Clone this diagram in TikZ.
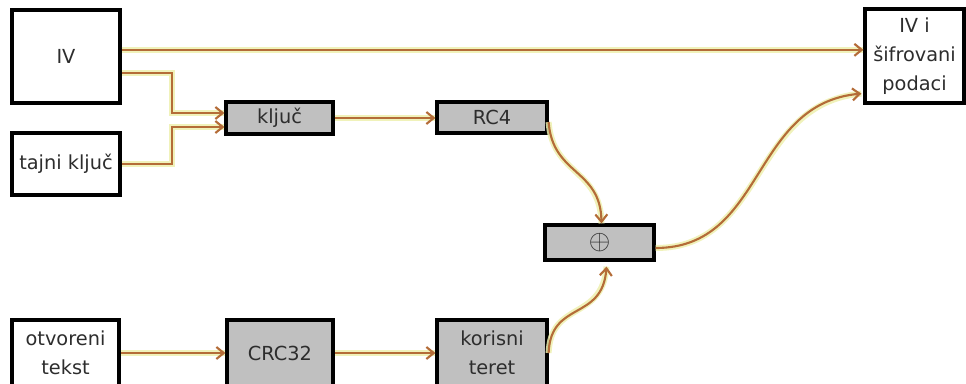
\documentclass[tikz,border=0pt]{standalone}
\usepackage{fontspec}
\setmainfont{DejaVu Sans}
\usetikzlibrary{arrows.meta,calc}
\definecolor{wirecol}{RGB}{180,108,56}
\definecolor{glowcol}{RGB}{238,240,175}
\definecolor{boxgray}{RGB}{192,192,192}
\definecolor{inkcol}{RGB}{45,45,45}
\begin{document}
\begin{tikzpicture}[x=0.75pt,y=-0.75pt,
  box/.style={draw=black, line width=2.4pt, inner sep=0pt, anchor=center,
    align=center, text=inkcol, font=\fontsize{14.5}{21.75}\selectfont},
  graybox/.style={box, fill=boxgray},
  wire/.style={draw=wirecol, line width=1.6pt,
    -{Straight Barb[length=5.5pt,width=9pt]},
    preaction={draw=glowcol, line width=4.5pt, -, opacity=0.85}}]

% canvas
\fill[white] (0,0) rectangle (966,383);
\useasboundingbox (0,0) rectangle (966,383);

% blocks (sizes in pt: 0.75pt per unit)
\node[box, minimum width=81pt, minimum height=69.75pt] (iv) at (66,56.5) {IV};
\node[box, minimum width=81pt, minimum height=46.5pt] (tajni) at (66,164) {tajni ključ};
\node[graybox, minimum width=80.25pt, minimum height=24pt] (kljuc) at (279.5,118) {ključ};
\node[graybox, minimum width=82.5pt, minimum height=23.25pt] (rc4) at (492,117.5) {RC4};
\node[graybox, minimum width=81.75pt, minimum height=26.25pt] (xor) at (599.5,242.5)
  {\fontsize{20}{20}\selectfont$\oplus$};
\node[box, minimum width=80.25pt, minimum height=49.5pt] (otv) at (65.5,353) {otvoreni\\tekst};
\node[graybox, minimum width=79.5pt, minimum height=49.5pt] (crc) at (280,353) {CRC32};
\node[graybox, minimum width=82.5pt, minimum height=49.5pt] (kor) at (492,353) {korisni\\teret};
\node[box, minimum width=74.25pt, minimum height=70.5pt] (out) at (914.5,56) {IV i\\šifrovani\\podaci};

% connections
\draw[wire] ([yshift=5pt]iv.east) -- ([yshift=5pt]iv.east -| out.west);
\draw[wire] ([yshift=-12.4pt]iv.east) -- ++(50,0) |- ([yshift=3.75pt]kljuc.west);
\draw[wire] (tajni.east) -- ++(50,0) |- ([yshift=-6.75pt]kljuc.west);
\draw[wire] (kljuc.east) -- (kljuc.east -| rc4.west);
\draw[wire] ([yshift=-3.4pt]rc4.east)
  .. controls ($(rc4.east)+(4,58)$) and ($(xor.north)+(1,-55)$) .. ([xshift=1.5pt]xor.north);
\draw[wire] (otv.east) -- (otv.east -| crc.west);
\draw[wire] (crc.east) -- (crc.east -| kor.west);
\draw[wire] (kor.east)
  .. controls ($(kor.east)+(2,-53)$) and ($(xor.south)+(3,60)$) .. ($(xor.south)+(7,5)$);
\draw[wire] ($(xor.east)+(0,5.5)$)
  .. controls ($(xor.east)+(110,5.5)$) and ($(out.south west)+(-113,-1)$) .. ($(out.south west)+(-2,-11)$);
\end{tikzpicture}
\end{document}
